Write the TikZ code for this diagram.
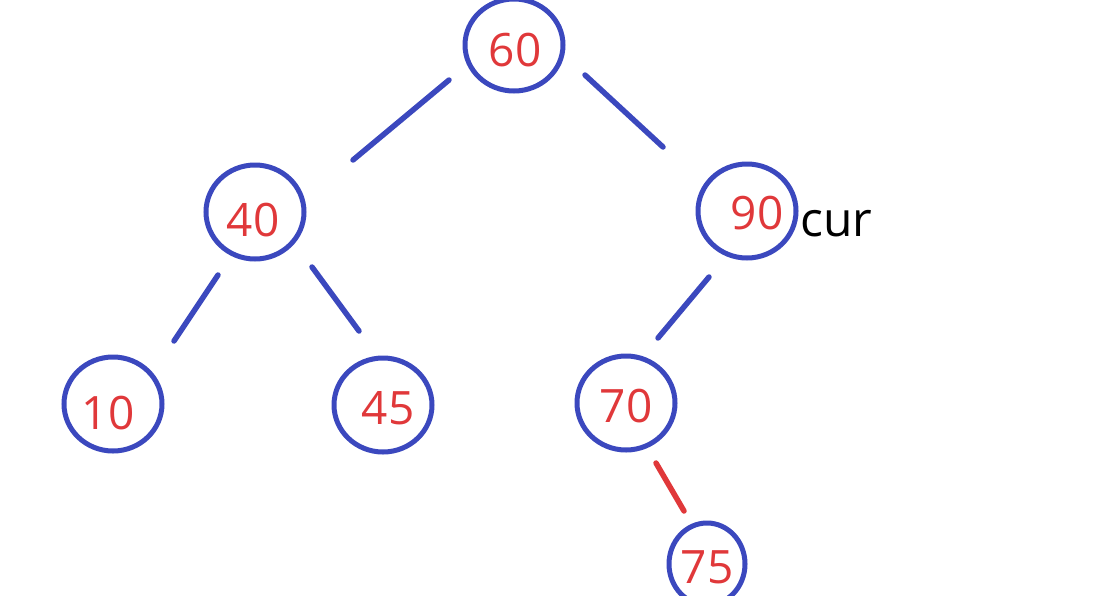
\documentclass[tikz,border=0pt]{standalone}
\usepackage{fontspec}
\setmainfont{Open Sans}
\usetikzlibrary{shapes.geometric,calc}
\definecolor{treeblue}{HTML}{3B48BE}
\definecolor{numred}{HTML}{E0383A}
\tikzset{
  tnode/.style={ellipse, draw=treeblue, line width=5pt, minimum width=98pt, minimum height=94pt, inner sep=0pt},
  tnum/.style={text=numred, font=\fontsize{46}{46}\selectfont},
  edge/.style={draw=treeblue, line width=5.5pt, line cap=round},
  redge/.style={draw=numred, line width=5.5pt, line cap=round},
}
\begin{document}
\begin{tikzpicture}[x=1pt,y=-1pt]
\useasboundingbox (0,0) rectangle (1113,595);
% nodes
\node[tnode, minimum height=92pt] (n60) at (514,45) {};
\node[tnode] (n40) at (255,212) {};
\node[tnode] (n90) at (747,211) {};
\node[tnode] (n10) at (113,404) {};
\node[tnode] (n45) at (383,405) {};
\node[tnode] (n70) at (626,403) {};
\node[tnode, minimum width=76pt, minimum height=82pt] (n75) at (707,564) {};
% labels
\node[tnum] (t60) at (515,50) {60};
\node[tnum] (t40) at (253,220) {40};
\node[tnum] (t90) at (757,213) {90};
\node[tnum] (t10) at (108,413) {10};
\node[tnum] (t45) at (388,408) {45};
\node[tnum] (t70) at (626,406) {70};
\node[tnum] (t75) at (707,567) {75};
\node[font=\fontsize{48}{48}\selectfont, anchor=base west, inner sep=0pt] (cur) at (800,236) {cur};
% connector end points
\coordinate (a1) at ($(n60)+(-65,35)$);
\coordinate (a2) at ($(n40)+(98,-52)$);
\coordinate (b1) at ($(n60)+(71,30)$);
\coordinate (b2) at ($(n90)+(-84,-64)$);
\coordinate (c1) at ($(n40)+(-37,63)$);
\coordinate (c2) at ($(n10)+(61,-63)$);
\coordinate (d1) at ($(n40)+(57,55)$);
\coordinate (d2) at ($(n45)+(-24,-74)$);
\coordinate (e1) at ($(n90)+(-38,66)$);
\coordinate (e2) at ($(n70)+(32,-65)$);
\coordinate (f1) at ($(n70)+(30,60)$);
\coordinate (f2) at ($(n75)+(-23,-53)$);
% connectors
\draw[edge] (a1) -- (a2);
\draw[edge] (b1) -- (b2);
\draw[edge] (c1) -- (c2);
\draw[edge] (d1) -- (d2);
\draw[edge] (e1) -- (e2);
\draw[redge] (f1) -- (f2);
\end{tikzpicture}
\end{document}
